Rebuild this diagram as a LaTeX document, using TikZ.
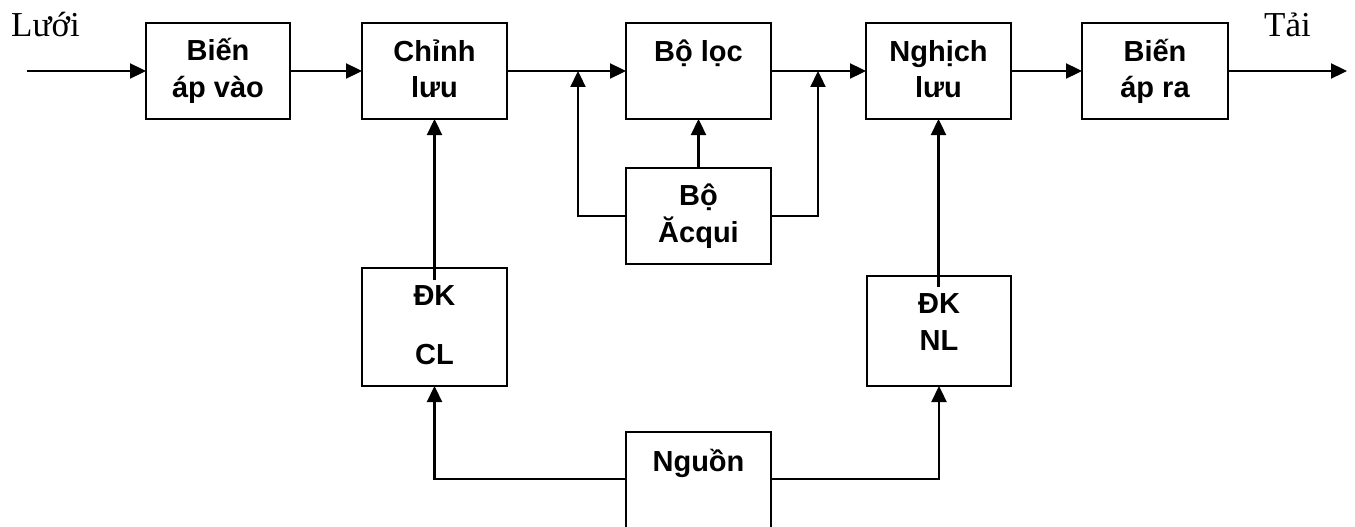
\documentclass[tikz,border=0pt]{standalone}
\usepackage{fontspec}
\setmainfont{Liberation Serif}
\setsansfont{Liberation Sans}
\usetikzlibrary{arrows.meta}
\tikzset{
  blk/.style={draw, line width=2pt, inner sep=0pt, outer sep=0pt, minimum width=145pt, minimum height=96pt},
  lbl/.style={inner sep=0pt, anchor=base, font=\sffamily\bfseries\fontsize{29}{34}\selectfont},
  ext/.style={inner sep=0pt, anchor=base west, font=\fontsize{35}{40}\selectfont},
  conn/.style={line width=2.3pt},
  arr/.style={conn, -{Triangle[length=16pt,width=15pt]}}
}
\begin{document}
\begin{tikzpicture}[x=1pt,y=-1pt]
\useasboundingbox (0,0) rectangle (1355,527);
\clip (0,0) rectangle (1355,527);
% boxes
\node[blk, minimum width=144pt] (bav) at (218,71) {};
\node[blk] (cl) at (434.5,71) {};
\node[blk] (loc) at (698.5,71) {};
\node[blk] (nl) at (938.5,71) {};
\node[blk, minimum width=146pt] (bar) at (1155,71) {};
\node[blk] (acq) at (698.5,216) {};
\node[blk, minimum height=118pt] (dkcl) at (434.5,327) {};
\node[blk, minimum width=144pt, minimum height=110pt] (dknl) at (939,331) {};
\node[blk] (ngu) at (698.5,480) {};
% texts
\node[lbl] (t1a) at (218,61) {Biến};
\node[lbl] (t1b) at (218,97) {áp vào};
\node[lbl] (t2a) at (434.5,62) {Chỉnh};
\node[lbl] (t2b) at (434.5,97) {lưu};
\node[lbl] (t3a) at (698.5,62) {Bộ lọc};
\node[lbl] (t4a) at (938.5,62) {Nghịch};
\node[lbl] (t4b) at (938.5,97) {lưu};
\node[lbl] (t5a) at (1155,62) {Biến};
\node[lbl] (t5b) at (1155,97) {áp ra};
\node[lbl] (t6a) at (698.5,205) {Bộ};
\node[lbl] (t6b) at (698.5,242) {Ăcqui};
\node[lbl] (t7a) at (434.5,305) {ĐK};
\node[lbl] (t7b) at (434.5,364) {CL};
\node[lbl] (t8a) at (939,313) {ĐK};
\node[lbl] (t8b) at (939,350) {NL};
\node[lbl] (t9a) at (698.5,471) {Nguồn};
\node[ext] (luoi) at (11,37) {Lưới};
\node[ext] (tai) at (1264,37) {Tải};
% coordinates
\coordinate (in) at (27,71);
\coordinate (out) at (1347,71);
\coordinate (j1) at (578,71);
\coordinate (j2) at (818,71);
\coordinate (k1) at (434.5,280);
\coordinate (k2) at (938.5,287);
% connectors
\draw[arr] (in) -- (bav.west);
\draw[arr] (bav.east) -- (cl.west);
\draw[arr] (cl.east) -- (loc.west);
\draw[arr] (loc.east) -- (nl.west);
\draw[arr] (nl.east) -- (bar.west);
\draw[arr] (bar.east) -- (out);
\draw[arr] (acq.west) -| (j1);
\draw[arr] (acq.east) -| (j2);
\draw[arr] (acq.north) -- (loc.south);
\draw[arr] (k1) -- (cl.south);
\draw[arr] (k2) -- (nl.south);
\draw[arr] (ngu.west |- 0,479) -| (dkcl.south);
\draw[arr] (ngu.east |- 0,479) -| (dknl.south);
\end{tikzpicture}
\end{document}
